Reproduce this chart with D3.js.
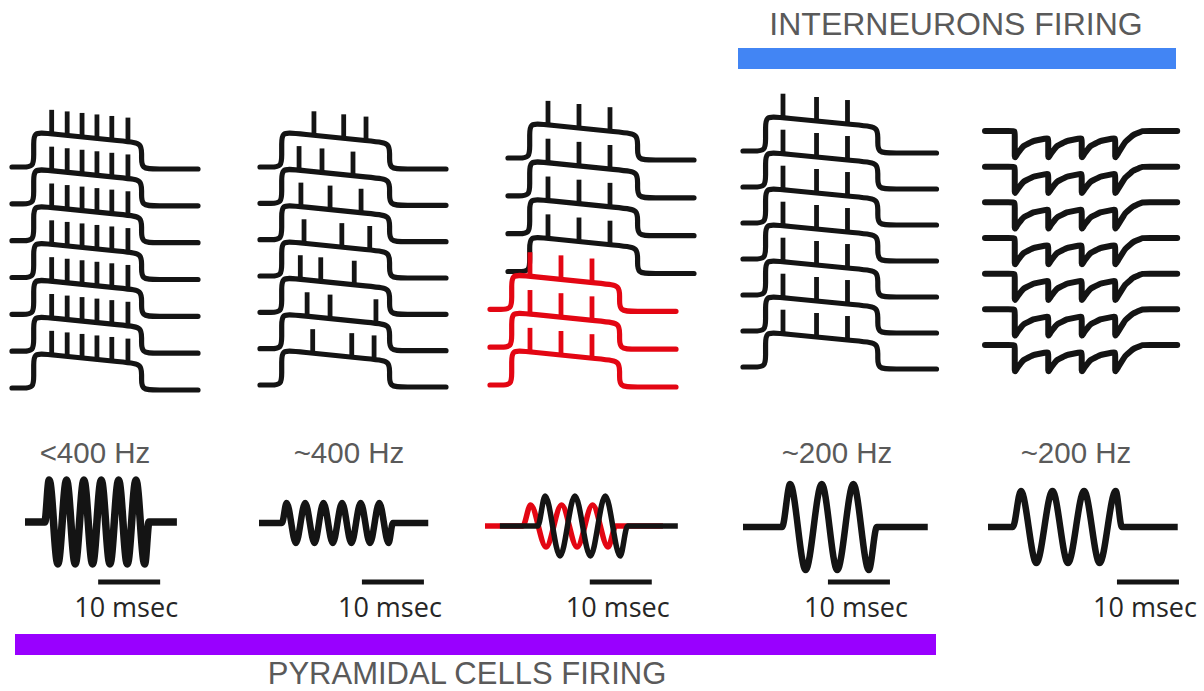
<!DOCTYPE html>
<html>
<head>
<meta charset="utf-8">
<script src="https://cdn.jsdelivr.net/npm/d3@7"></script>
<style>
  html, body { margin: 0; padding: 0; background: #fff; }
  svg { display: block; }
</style>
</head>
<body>
<svg id="chart" width="1204" height="691"></svg>
<script>
// ---------- data ----------
const rateLabels = ['<400 Hz', '~400 Hz', '', '~200 Hz', '~200 Hz'];
const scaleBarText = '10 msec';
const scaleBarMs = 10;
const scaleBarStart = [11.8, 16.6, 16.9, 13.7, 20.8];   // ms
const interneuronLabel = 'INTERNEURONS FIRING';
const pyramidalLabel = 'PYRAMIDAL CELLS FIRING';

// depolarising step response, corner vertices (ms, mV above rest)
const stepT = [0, 3.5, 3.5, 20.9, 20.9, 30];
const stepV = [0, 0, 35, 24, -2, -2];
const spikeHeight = 24;

// spike times (ms) in each sweep
const spikesFast = [6.4, 8.9, 11.3, 13.7, 16.1, 18.7];
const spikesSparse = [
  [8.7, 13.5, 17.1],
  [6.3, 10.0, 15.0],
  [6.6, 11.3, 16.3],
  [7.1, 13.2, 17.7],
  [6.5, 9.8, 15.2],
  [7.6, 11.3, 18.7],
  [8.5, 14.8, 18.4]
];
const spikesLocked = [6.45, 11.45, 16.45];
const spikesInter = [6.2, 11.4, 16.2];
const sweepIsRed = [false, false, false, false, true, true, true];

// inhibitory sweep, corner vertices (ms, mV)
const ipspT = [0, 4.8, 4.8, 5.3, 6.2, 7.8, 10.2, 10.2, 10.7, 11.6, 13.2, 15.6,
  15.6, 16.1, 17.0, 18.6, 21.0, 21.0, 21.6, 22.6, 23.9, 25.4, 31.0];
const ipspV = [0, 0, -27, -22, -15, -10, -7, -27, -22, -15, -10, -7,
  -27, -22, -15, -10, -7, -27, -21, -11, -4, 0, 0];

// field oscillations: extrema (ms, uV)
const osc1T = [0, 3.2, 3.9, 5.3, 6.7, 8.1, 9.5, 10.9, 12.3, 13.7, 15.1, 16.5, 17.9, 19.3, 20.0, 24.5];
const osc1V = [0, 0, 42, -42, 42, -42, 42, -42, 42, -42, 42, -42, 42, -42, 0, 0];
const osc2T = [0, 3.7, 4.45, 5.95, 7.45, 8.95, 10.4, 11.9, 13.4, 14.9, 16.4, 17.9, 19.4, 20.9, 21.6, 27.3];
const osc2V = [0, 0, 20, -20, 20, -20, 20, -20, 20, -20, 20, -20, 20, -20, 0, 0];
const osc3RedT = [0, 6.1, 7.35, 9.85, 12.35, 14.85, 17.35, 19.85, 21.1, 28.7];
const osc3RedV = [0, 0, 21, -21, 21, -21, 21, -21, 0, 0];
const osc3BlackT = [2.4, 8.5, 9.7, 12.1, 14.5, 17.0, 19.4, 21.8, 23.0, 31.1];
const osc3BlackV = [0, 0, 30, -30, 30, -30, 30, -30, 0, 0];
const osc4T = [0, 6.3, 7.6, 10.1, 12.7, 15.2, 17.8, 20.3, 21.6, 29.8];
const osc4V = [0, 0, 43, -43, 43, -43, 43, -43, 0, 0];
const osc5T = [0, 4.0, 5.3, 7.8, 10.4, 12.9, 15.5, 18.0, 20.6, 21.6, 30.6];
const osc5V = [0, 0, 36, -36, 36, -36, 36, -36, 36, 0, 0];

// ---------- drawing ----------
const BLACK = '#141414';
const RED = '#e30613';
const GREY = '#5a5a5a';
const SWEEPS = 7;

const svg = d3.select('#chart');
const basis = d3.line().curve(d3.curveBasis);
const smooth = d3.line().curve(d3.curveMonotoneX);

// put extra control points next to every corner so curveBasis rounds it
function rounded(pts, r) {
  const out = [pts[0]];
  for (let i = 1; i < pts.length - 1; i++) {
    const a = pts[i - 1], p = pts[i], b = pts[i + 1];
    const la = Math.hypot(p[0] - a[0], p[1] - a[1]);
    const lb = Math.hypot(b[0] - p[0], b[1] - p[1]);
    const ra = Math.min(r, la / 2), rb = Math.min(r, lb / 2);
    if (la > 0) out.push([p[0] + (a[0] - p[0]) * ra / la, p[1] + (a[1] - p[1]) * ra / la]);
    out.push(p);
    if (lb > 0) out.push([p[0] + (b[0] - p[0]) * rb / lb, p[1] + (b[1] - p[1]) * rb / lb]);
  }
  out.push(pts[pts.length - 1]);
  return out;
}

const plateauAt = d3.scaleLinear().domain([stepT[2], stepT[3]]).range([stepV[2], stepV[3]]);

function sweepPanel(cfg) {
  const g = svg.append('g');
  const row = d3.scaleLinear().domain([0, SWEEPS - 1]).range([cfg.top, cfg.bottom]);
  const order = d3.range(SWEEPS).sort((a, b) => (cfg.red ? (cfg.red[a] - cfg.red[b]) : 0));
  order.forEach((i) => {
    const red = cfg.red ? cfg.red[i] : false;
    const x0 = red ? cfg.redX0 : cfg.x0;
    const x = d3.scaleLinear().domain([0, 30]).range([x0, x0 + 30 * cfg.pxPerMs]);
    const y = d3.scaleLinear().domain([0, 10]).range([row(i), row(i) - 10]);
    const colour = red ? RED : BLACK;
    const pts = stepT.map((t, k) => [x(t), y(stepV[k])]);
    g.append('path')
      .attr('d', basis(rounded(pts, 13)))
      .attr('fill', 'none')
      .attr('stroke', colour)
      .attr('stroke-width', 5.2)
      .attr('stroke-linecap', 'round');
    const times = cfg.spikes(i);
    g.selectAll(null).data(times).enter().append('line')
      .attr('x1', (t) => x(t))
      .attr('x2', (t) => x(t))
      .attr('y1', (t) => y(plateauAt(t)))
      .attr('y2', (t) => y(plateauAt(t) + spikeHeight))
      .attr('stroke', colour)
      .attr('stroke-width', 4.8);
  });
}

sweepPanel({x0: 12, pxPerMs: 6.2, top: 167, bottom: 388, spikes: () => spikesFast});
sweepPanel({x0: 260, pxPerMs: 6.2, top: 167, bottom: 385, spikes: (i) => spikesSparse[i]});
sweepPanel({x0: 508, redX0: 490, pxPerMs: 6.2, top: 158, bottom: 385,
  red: sweepIsRed, spikes: () => spikesLocked});
sweepPanel({x0: 743, pxPerMs: 6.45, top: 151, bottom: 367, spikes: () => spikesInter});

// inhibitory sweeps
(function () {
  const g = svg.append('g');
  const row = d3.scaleLinear().domain([0, SWEEPS - 1]).range([131, 345]);
  const x = d3.scaleLinear().domain([0, 31]).range([985, 985 + 31 * 6.2]);
  d3.range(SWEEPS).forEach((i) => {
    const y = d3.scaleLinear().domain([0, -10]).range([row(i), row(i) + 10]);
    const pts = ipspT.map((t, k) => [x(t), y(ipspV[k])]);
    g.append('path')
      .attr('d', basis(rounded(pts, 2.5)))
      .attr('fill', 'none')
      .attr('stroke', BLACK)
      .attr('stroke-width', 6)
      .attr('stroke-linecap', 'round')
      .attr('stroke-linejoin', 'round');
  });
})();

// field oscillations + scale bars
const oscPanels = [
  {x0: 25, base: 522, width: 7.5, traces: [[osc1T, osc1V, BLACK]]},
  {x0: 259, base: 523, width: 6.5, traces: [[osc2T, osc2V, BLACK]]},
  {x0: 485, base: 526, width: 5.5, traces: [[osc3RedT, osc3RedV, RED], [osc3BlackT, osc3BlackV, BLACK]]},
  {x0: 743, base: 527, width: 6.5, traces: [[osc4T, osc4V, BLACK]]},
  {x0: 988, base: 527, width: 6.5, traces: [[osc5T, osc5V, BLACK]]}
];
const rateX = [95, 349, 0, 837, 1076];

oscPanels.forEach((p, i) => {
  const g = svg.append('g');
  const x = d3.scaleLinear().domain([0, 10]).range([p.x0, p.x0 + 62]);
  const y = d3.scaleLinear().domain([-50, 50]).range([p.base + 50, p.base - 50]);
  p.traces.forEach(([ts, vs, colour]) => {
    g.append('path')
      .attr('d', smooth(ts.map((t, k) => [x(t), y(vs[k])])))
      .attr('fill', 'none')
      .attr('stroke', colour)
      .attr('stroke-width', p.width)
      .attr('stroke-linejoin', 'round');
  });
  const s0 = x(scaleBarStart[i]), s1 = x(scaleBarStart[i] + scaleBarMs);
  g.append('line')
    .attr('x1', s0).attr('x2', s1)
    .attr('y1', 582).attr('y2', 582)
    .attr('stroke', BLACK)
    .attr('stroke-width', 5);
  g.append('text')
    .attr('x', (s0 + s1) / 2 - 3)
    .attr('y', 617)
    .attr('text-anchor', 'middle')
    .attr('font-family', '"Open Sans", sans-serif')
    .attr('font-size', 27)
    .attr('fill', '#262626')
    .text(scaleBarText);
  if (rateLabels[i]) {
    g.append('text')
      .attr('x', rateX[i])
      .attr('y', 463)
      .attr('text-anchor', 'middle')
      .attr('font-family', '"Liberation Sans", Arial, sans-serif')
      .attr('font-size', 29.5)
      .attr('fill', GREY)
      .text(rateLabels[i]);
  }
});

// group bars
svg.append('rect')
  .attr('x', 738).attr('y', 48).attr('width', 438).attr('height', 21)
  .attr('fill', '#4285f4');
svg.append('text')
  .attr('x', 956).attr('y', 35)
  .attr('text-anchor', 'middle')
  .attr('font-family', '"Liberation Sans", Arial, sans-serif')
  .attr('font-size', 32)
  .attr('fill', GREY)
  .text(interneuronLabel);

svg.append('rect')
  .attr('x', 15).attr('y', 634).attr('width', 921).attr('height', 21)
  .attr('fill', '#9900ff');
svg.append('text')
  .attr('x', 467).attr('y', 684)
  .attr('text-anchor', 'middle')
  .attr('font-family', '"Liberation Sans", Arial, sans-serif')
  .attr('font-size', 31)
  .attr('fill', GREY)
  .text(pyramidalLabel);
</script>
</body>
</html>
